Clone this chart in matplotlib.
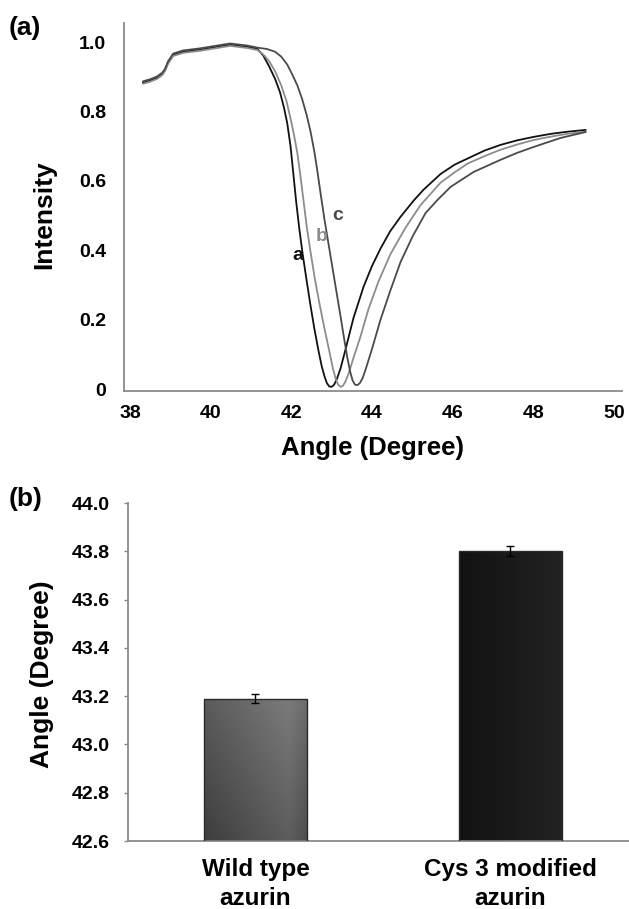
import numpy as np
import matplotlib
matplotlib.use("Agg")
import matplotlib.pyplot as plt

plt.rcParams['font.family'] = ['Liberation Sans', 'DejaVu Sans']
plt.rcParams['font.weight'] = 'bold'

# ---------------- data: panel (a) SPR curves ----------------
plateau_angle = [38.32, 38.50, 38.67, 38.80, 38.87, 38.94, 39.07, 39.32, 39.74, 40.16, 40.48, 40.91, 41.16]
plateau_int = [0.883, 0.889, 0.897, 0.908, 0.920, 0.940, 0.963, 0.972, 0.978, 0.986, 0.992, 0.986, 0.980]

a_angle = plateau_angle + [41.30, 41.45, 41.60, 41.72, 41.82, 41.90, 41.98, 42.05, 42.12, 42.20, 42.28, 42.37,
                           42.47, 42.57, 42.67, 42.75, 42.82, 42.88, 42.94, 43.00, 43.06, 43.13, 43.22, 43.34,
                           43.54, 43.79, 44.00, 44.21, 44.45, 44.71, 45.03, 45.28, 45.70, 46.05, 46.45, 46.80,
                           47.19, 47.60, 48.01, 48.45, 48.86, 49.30]
a_int = plateau_int + [0.962, 0.930, 0.893, 0.855, 0.810, 0.765, 0.700, 0.620, 0.540, 0.460, 0.390, 0.320,
                       0.245, 0.175, 0.113, 0.068, 0.038, 0.018, 0.008, 0.007, 0.013, 0.030, 0.060, 0.113,
                       0.205, 0.295, 0.355, 0.405, 0.455, 0.497, 0.543, 0.575, 0.620, 0.647, 0.669, 0.688,
                       0.704, 0.717, 0.727, 0.736, 0.742, 0.747]

b_angle = plateau_angle + [41.30, 41.45, 41.60, 41.75, 41.88, 41.98, 42.07, 42.15, 42.23, 42.30, 42.38, 42.47,
                           42.58, 42.70, 42.83, 42.95, 43.03, 43.10, 43.16, 43.22, 43.28, 43.34, 43.42, 43.54,
                           43.71, 43.91, 44.16, 44.46, 44.83, 45.20, 45.70, 46.05, 46.37, 46.80, 47.19, 47.60,
                           48.01, 48.45, 48.86, 49.30]
b_int = [v - 0.003 for v in plateau_int] + [0.965, 0.945, 0.915, 0.875, 0.830, 0.780, 0.730, 0.680, 0.610,
                                            0.545, 0.470, 0.400, 0.320, 0.245, 0.170, 0.105, 0.060, 0.030,
                                            0.013, 0.007, 0.010, 0.022, 0.045, 0.090, 0.150, 0.230, 0.310,
                                            0.390, 0.465, 0.530, 0.595, 0.625, 0.650, 0.672, 0.690, 0.705,
                                            0.718, 0.728, 0.736, 0.742]

c_angle = plateau_angle + [41.40, 41.60, 41.75, 41.90, 42.03, 42.15, 42.27, 42.38, 42.48, 42.57, 42.65, 42.73,
                           42.82, 42.92, 43.02, 43.12, 43.22, 43.31, 43.39, 43.46, 43.52, 43.58, 43.64, 43.70,
                           43.77, 43.85, 43.93, 44.01, 44.21, 44.46, 44.71, 45.01, 45.33, 45.63, 45.95, 46.52,
                           47.19, 47.60, 48.01, 48.68, 49.30]
c_int = [v + 0.004 for v in plateau_int] + [0.980, 0.972, 0.958, 0.935, 0.905, 0.875, 0.835, 0.790, 0.740,
                                            0.685, 0.625, 0.560, 0.490, 0.420, 0.350, 0.280, 0.210, 0.145,
                                            0.090, 0.050, 0.025, 0.013, 0.012, 0.018, 0.033, 0.060, 0.090,
                                            0.120, 0.200, 0.286, 0.367, 0.441, 0.508, 0.546, 0.583, 0.626,
                                            0.661, 0.681, 0.698, 0.724, 0.741]

curve_names = ['a', 'b', 'c']
curve_colors = ['#111111', '#8c8c8c', '#4a4a4a']
label_pos = [(42.15, 0.384), (42.75, 0.439), (43.14, 0.50)]

x_ticks_a = [38, 40, 42, 44, 46, 48, 50]
y_ticks_a = [0, 0.2, 0.4, 0.6, 0.8, 1.0]
y_ticklabels_a = ['0', '0.2', '0.4', '0.6', '0.8', '1.0']

# ---------------- data: panel (b) bar chart ----------------
bar_categories = ['Wild type\nazurin', 'Cys 3 modified\nazurin']
bar_values = [43.19, 43.80]
bar_errors = [0.02, 0.02]
y_ticks_b = [42.6, 42.8, 43.0, 43.2, 43.4, 43.6, 43.8, 44.0]

# ---------------- figure ----------------
W, H = 629, 909
fig = plt.figure(figsize=(W / 100, H / 100), dpi=100)

def px_axes(l, r, t, b):
    return fig.add_axes([l / W, 1 - b / H, (r - l) / W, (b - t) / H])

spine_col = '#8a8a8a'

# ---- panel (a)
ax1 = px_axes(124, 622, 23, 391)
for ang, inten, col in zip([a_angle, b_angle, c_angle], [a_int, b_int, c_int], curve_colors):
    ax1.plot(ang, inten, color=col, lw=1.3, solid_joinstyle='round', solid_capstyle='round')
for name, col, (lx, ly) in zip(curve_names, curve_colors, label_pos):
    ax1.text(lx, ly, name, color=col, fontsize=14, fontweight='bold', ha='center', va='center')
ax1.set_xlim(37.85, 50.2)
ax1.set_ylim(-0.005, 1.055)
ax1.set_xticks(x_ticks_a)
ax1.set_yticks(y_ticks_a)
ax1.set_yticklabels(y_ticklabels_a)
ax1.tick_params(axis='both', length=0, labelsize=14)
ax1.tick_params(axis='x', pad=10)
ax1.tick_params(axis='y', pad=13)
for s in ['top', 'right']:
    ax1.spines[s].set_visible(False)
for s in ['left', 'bottom']:
    ax1.spines[s].set_color(spine_col)
    ax1.spines[s].set_linewidth(1.3)
ax1.set_xlabel('Angle (Degree)', fontsize=18.5, fontweight='bold', va='center')
ax1.xaxis.set_label_coords(0.498, -0.155)
ax1.set_ylabel('Intensity', fontsize=19, fontweight='bold', va='center')
ax1.yaxis.set_label_coords(-0.16, 0.478)

fig.text(9 / W, 1 - 28 / H, '(a)', fontsize=19, fontweight='bold', ha='left', va='center')

# ---- panel (b)
ax2 = px_axes(128, 629, 503, 841)
xpos = np.arange(len(bar_values))
bars = ax2.bar(xpos, [v - 42.6 for v in bar_values], bottom=42.6, width=0.404,
               color='none', edgecolor='#2a2a2a', linewidth=1.0, zorder=3)

# gradient fills clipped to bars
nu, nv = 120, 200
u = np.linspace(0, 1, nu)[None, :]
v = np.linspace(0, 1, nv)[:, None]
t = 0.7 * u + 0.55 * v
g1 = 0.24 + 0.27 * t / 1.25 - 0.09 * np.clip((u - 0.82) / 0.18, 0, 1)
g2 = 0.07 + 0.065 * u + 0 * v
for bar, g in zip(bars, [g1, g2]):
    x0, y0 = bar.get_x(), bar.get_y()
    w, h = bar.get_width(), bar.get_height()
    img = ax2.imshow(np.dstack([g, g, g]), extent=[x0, x0 + w, y0, y0 + h], origin='lower',
                     aspect='auto', zorder=2, interpolation='bilinear')
    img.set_clip_path(bar)
ax2.set_xlim(-0.5, 1.465)
ax2.set_ylim(42.6, 44.0)

ax2.errorbar(xpos, bar_values, yerr=bar_errors, fmt='none', ecolor='black',
             elinewidth=1.0, capsize=3, capthick=1.0, zorder=4)

ax2.set_xticks(xpos)
ax2.set_xticklabels(bar_categories, fontsize=17.5, fontweight='bold', linespacing=1.35)
ax2.set_yticks(y_ticks_b)
ax2.set_yticklabels([f'{v:.1f}' for v in y_ticks_b])
ax2.tick_params(axis='x', length=0, pad=12)
ax2.tick_params(axis='y', length=3, width=1, color=spine_col, labelsize=14, pad=10, direction='out')
for s in ['top', 'right']:
    ax2.spines[s].set_visible(False)
for s in ['left', 'bottom']:
    ax2.spines[s].set_color(spine_col)
    ax2.spines[s].set_linewidth(1.3)
ax2.set_ylabel('Angle (Degree)', fontsize=19, fontweight='bold', va='center')
ax2.yaxis.set_label_coords(-0.172, 0.494)

fig.text(9 / W, 1 - 499 / H, '(b)', fontsize=19, fontweight='bold', ha='left', va='center')

fig.savefig('out.png', dpi=100, facecolor='white')
